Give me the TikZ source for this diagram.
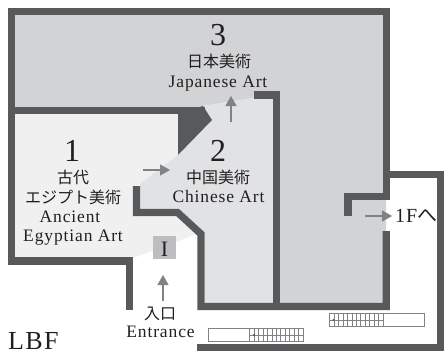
\documentclass[tikz,border=0pt]{standalone}
\usepackage{fontspec}
\setmainfont{Liberation Serif}
\newfontfamily\latinfont[LetterSpace=5]{Liberation Serif}
\newfontfamily\cjkfont{Noto Sans CJK JP}
\usetikzlibrary{arrows.meta}
\definecolor{wallgray}{HTML}{58595B}
\definecolor{roomthree}{HTML}{D1D3D4}
\definecolor{roomtwo}{HTML}{E1E2E4}
\definecolor{roomone}{HTML}{F0F0F1}
\definecolor{signgray}{HTML}{BCBEC0}
\definecolor{arrowgray}{HTML}{808285}
\definecolor{inkblack}{HTML}{231F20}
\tikzset{
  wall/.style={draw=wallgray,line width=7.2pt,miter limit=10},
  walkarrow/.style={draw=arrowgray,line width=1.2pt,-{Triangle[length=10pt,width=11pt]}},
  numlabel/.style={anchor=base,inner sep=0pt,text=inkblack,font=\fontsize{32}{32}\selectfont},
  jplabel/.style={anchor=base,inner sep=0pt,text=inkblack,font=\fontsize{16}{16}\cjkfont},
  enlabel/.style={anchor=base,inner sep=0pt,text=inkblack,font=\fontsize{17.5}{18}\latinfont},
  stairbox/.style={draw=arrowgray,line width=0.6pt,fill=white}
}
\begin{document}
\begin{tikzpicture}[x=1pt,y=-1pt]
\useasboundingbox (0,0) rectangle (444,351);
%rooms
\fill[roomthree] (15,15) -- (386,15) -- (386,303) -- (273,303) -- (273,98) -- (254,98) -- (203,106) -- (203,110) -- (15,110) -- cycle;
\fill[roomone] (15,113) -- (178,113) -- (178,155) -- (133,190) -- (133,216) -- (176,216) -- (197,234) -- (133,258) -- (15,258) -- cycle;
\fill[roomtwo] (203,106) -- (254,98) -- (273,98) -- (273,303) -- (205,303) -- (205,233) -- (179,209) -- (140,209) -- (140,184) -- (178,155) -- (212,120) -- cycle;
\fill[wallgray] (178,113) -- (178,155) -- (212,120) -- (203,106) -- cycle;
%walls
\draw[wall] (129.2,310) -- (129.2,261) -- (11.5,261) -- (11.5,11.5) -- (386.2,11.5) -- (386.2,196.7) -- (348,196.7) -- (348,216);
\draw[wall] (15,110.2) -- (205,110.2);
\draw[wall] (254,95) -- (276.5,95) -- (276.5,304);
\draw[wall] (386.2,231) -- (386.2,306.5) -- (201,306.5) -- (201,234) -- (177.5,212.4) -- (136.5,212.4) -- (136.5,186);
\draw[wall] (386,174.7) -- (441,174.7) -- (441,347.6) -- (197,347.6);
%stairs
\draw[stairbox] (208,328.5) rectangle (303,341.5);
\draw[stairbox] (329.5,313.5) rectangle (424.5,326.5);
\foreach \i in {0,...,12}{
  \draw[arrowgray,line width=0.5pt] (249.5+\i*4.46,328.5) -- (249.5+\i*4.46,341.5);
  \draw[arrowgray,line width=0.5pt] (329.5+\i*4.46,313.5) -- (329.5+\i*4.46,326.5);
}
\draw[arrowgray,line width=0.5pt] (249.5,335) -- (303,335);
\draw[arrowgray,line width=0.5pt] (329.5,320) -- (383,320);
\fill[wallgray] (254,335) circle (1.2);
\fill[wallgray] (333.5,320) circle (1.2);
%labels
\path (218,45) node(numthree) [numlabel]{3};
\path (219,67) node(jpthree) [jplabel]{日本美術};
\path (218,87) node(enthree) [enlabel]{Japanese Art};
\path (72,161.5) node(numone) [numlabel]{1};
\path (73,183) node(jpone) [jplabel]{古代};
\path (73,203) node(jponeb) [jplabel]{エジプト美術};
\path (70,222.5) node(enone) [enlabel]{Ancient};
\path (73,241) node(enoneb) [enlabel]{Egyptian Art};
\path (218,161.5) node(numtwo) [numlabel]{2};
\path (218,183) node(jptwo) [jplabel]{中国美術};
\path (218.5,202.7) node(entwo) [enlabel]{Chinese Art};
\path (153,236) node(signbox) [anchor=north west,fill=signgray,minimum width=23pt,minimum height=22.5pt,inner sep=0pt]{};
\path (164.5,256) node(signtext) [anchor=base,inner sep=0pt,text=inkblack,font=\fontsize{22}{22}\selectfont]{I};
\path (160,319) node(jpentry) [jplabel]{入口};
\path (160.5,337) node(enentry) [enlabel]{Entrance};
\path (395,222) node(nextfloor) [anchor=base west,inner sep=0pt,text=inkblack,font=\fontsize{20}{20}\latinfont]{1F\cjkfont へ};
\path (8,349.5) node(floorname) [anchor=base west,inner sep=0pt,text=inkblack,font=\fontsize{26}{26}\latinfont]{LBF};
%arrows
\coordinate (onefrom) at (143,170);
\coordinate (oneto) at (170,170);
\coordinate (twofrom) at (231,122);
\coordinate (twoto) at (231,96);
\coordinate (outfrom) at (365,216);
\coordinate (outto) at (392,216);
\coordinate (infrom) at (163,301);
\coordinate (into) at (163,275);
\draw[walkarrow] (onefrom) -- (oneto);
\draw[walkarrow] (twofrom) -- (twoto);
\draw[walkarrow] (outfrom) -- (outto);
\draw[walkarrow] (infrom) -- (into);
\end{tikzpicture}
\end{document}
